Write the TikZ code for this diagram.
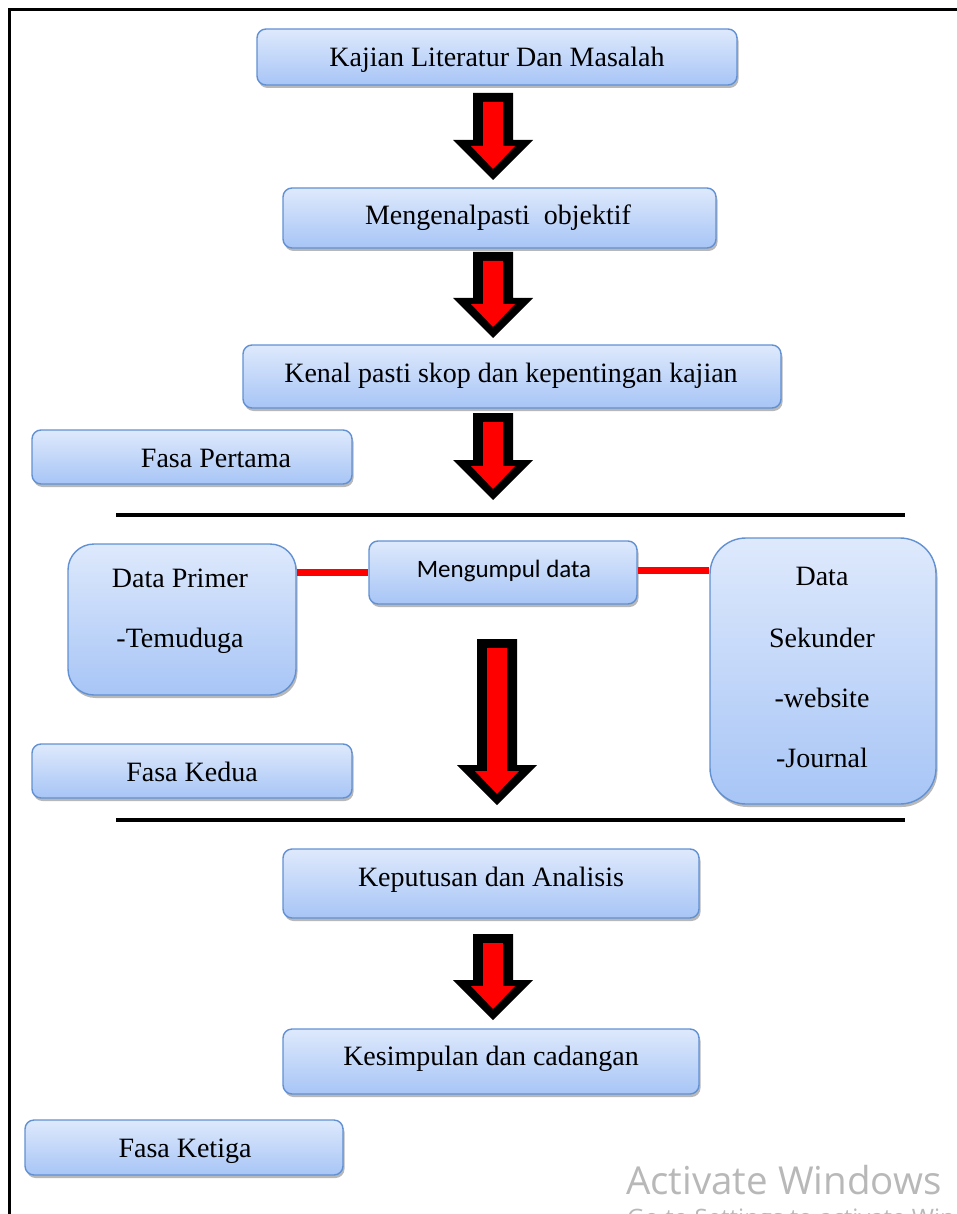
\documentclass[tikz,border=0pt]{standalone}
\usepackage{fontspec}
\setmainfont{Liberation Serif}
\newfontfamily\calib{Carlito}
\newfontfamily\winfont{Open Sans}
\usetikzlibrary{shadows}
\definecolor{boxtop}{HTML}{DEE9FC}
\definecolor{boxbot}{HTML}{A7C5F6}
\definecolor{boxline}{HTML}{6190D3}
\definecolor{wmgray}{HTML}{B8B8B8}
\newcommand{\redarrow}[5]{% #1 cx, #2 top, #3 head base, #4 tip, #5 shaft half
  \fill[black] ({#1-#5},#2) -- ({#1+#5},#2) -- ({#1+#5},#3) -- ({#1+40},#3) -- (#1,#4) -- ({#1-40},#3) -- ({#1-#5},#3) -- cycle;
  \fill[red] ({#1-#5+10},{#2+9}) -- ({#1+#5-10},{#2+9}) -- ({#1+#5-10},{#3+6}) -- ({#1+22},{#3+6}) -- (#1,{#4-11}) -- ({#1-22},{#3+6}) -- ({#1-#5+10},{#3+6}) -- cycle;}
\tikzset{
  box/.style={draw=boxline, line width=1.4pt, rounded corners=9pt, top color=boxtop, bottom color=boxbot,
    drop shadow={shadow xshift=1.5pt, shadow yshift=-3pt, opacity=0.35, fill=black!80}, inner sep=0pt},
  lbl/.style={anchor=base, inner sep=0pt, font=\fontsize{28}{30}\selectfont},
  sep/.style={line width=3.5pt, black},
  redline/.style={line width=7pt, red},
}
\begin{document}
\begin{tikzpicture}[x=1pt,y=-1pt]
\useasboundingbox (0,0) rectangle (956,1214);
% frame
\draw[line width=3pt] (9,1230) -- (9,10) -- (970,10);
% boxes
\node[box, minimum width=480pt, minimum height=56pt] (b1) at (497,57) {};
\node[box, minimum width=433pt, minimum height=60pt] (b2) at (499.5,218) {};
\node[box, minimum width=538pt, minimum height=63pt] (b3) at (512,376.5) {};
\node[box, minimum width=320pt, minimum height=54pt] (fp) at (192,457) {};
\node[box, rounded corners=26pt, minimum width=228pt, minimum height=151pt] (dp) at (182,619.5) {};
\node[box, minimum width=268pt, minimum height=63pt] (mg) at (503,572.5) {};
\node[box, rounded corners=36pt, minimum width=226pt, minimum height=266pt] (ds) at (823,671) {};
\node[box, minimum width=320pt, minimum height=54pt] (fk) at (192,771) {};
\node[box, minimum width=416pt, minimum height=69pt] (kp) at (491,883.5) {};
\node[box, minimum width=416pt, minimum height=65pt] (ks) at (491,1061.5) {};
\node[box, minimum width=318pt, minimum height=55pt] (ft) at (184,1147.5) {};
% texts
\node[lbl] (t1) at (497,67) {Kajian Literatur Dan Masalah};
\node[lbl] (t2) at (498,225) {Mengenalpasti\ \ objektif};
\node[lbl] (t3) at (511,382) {Kenal pasti skop dan kepentingan kajian};
\node[lbl] (tfp) at (216,467) {Fasa Pertama};
\node[lbl] (tdp1) at (180,587) {Data Primer};
\node[lbl] (tdp2) at (180,647) {-Temuduga};
\node[lbl, font=\calib\fontsize{25}{27}\selectfont] (tmg) at (504,577) {Mengumpul data};
\node[lbl] (tds1) at (822,585) {Data};
\node[lbl] (tds2) at (822,647) {Sekunder};
\node[lbl] (tds3) at (822,707) {-website};
\node[lbl] (tds4) at (822,767) {-Journal};
\node[lbl] (tfk) at (192,781) {Fasa Kedua};
\node[lbl] (tkp) at (491,886) {Keputusan dan Analisis};
\node[lbl] (tks) at (491,1065) {Kesimpulan dan cadangan};
\node[lbl] (tft) at (185,1157) {Fasa Ketiga};
% separators
\coordinate (s1a) at (116,515); \coordinate (s1b) at (905,515);
\coordinate (s2a) at (116,820); \coordinate (s2b) at (905,820);
\draw[sep] (s1a) -- (s1b);
\draw[sep] (s2a) -- (s2b);
% red connectors
\draw[redline] (dp.east |- 0,572) -- (mg.west |- 0,572);
\draw[redline] (mg.east |- 0,570) -- (ds.west |- 0,570);
% arrows
\redarrow{493}{93}{140}{180}{20}
\redarrow{493}{252}{298}{338}{20}
\redarrow{493}{413}{460}{500}{20}
\redarrow{497}{639}{765}{805}{20}
\redarrow{493}{934}{980}{1020}{20}
% watermark
\node[anchor=base west, inner sep=0pt, text=wmgray, font=\winfont\fontsize{38.5}{40}\selectfont] (wm1) at (626,1194) {Activate Windows};
\node[anchor=base west, inner sep=0pt, text=wmgray, font=\winfont\fontsize{24}{26}\selectfont] (wm2) at (627,1226) {Go to Settings to activate Windows.};
\end{tikzpicture}
\end{document}
